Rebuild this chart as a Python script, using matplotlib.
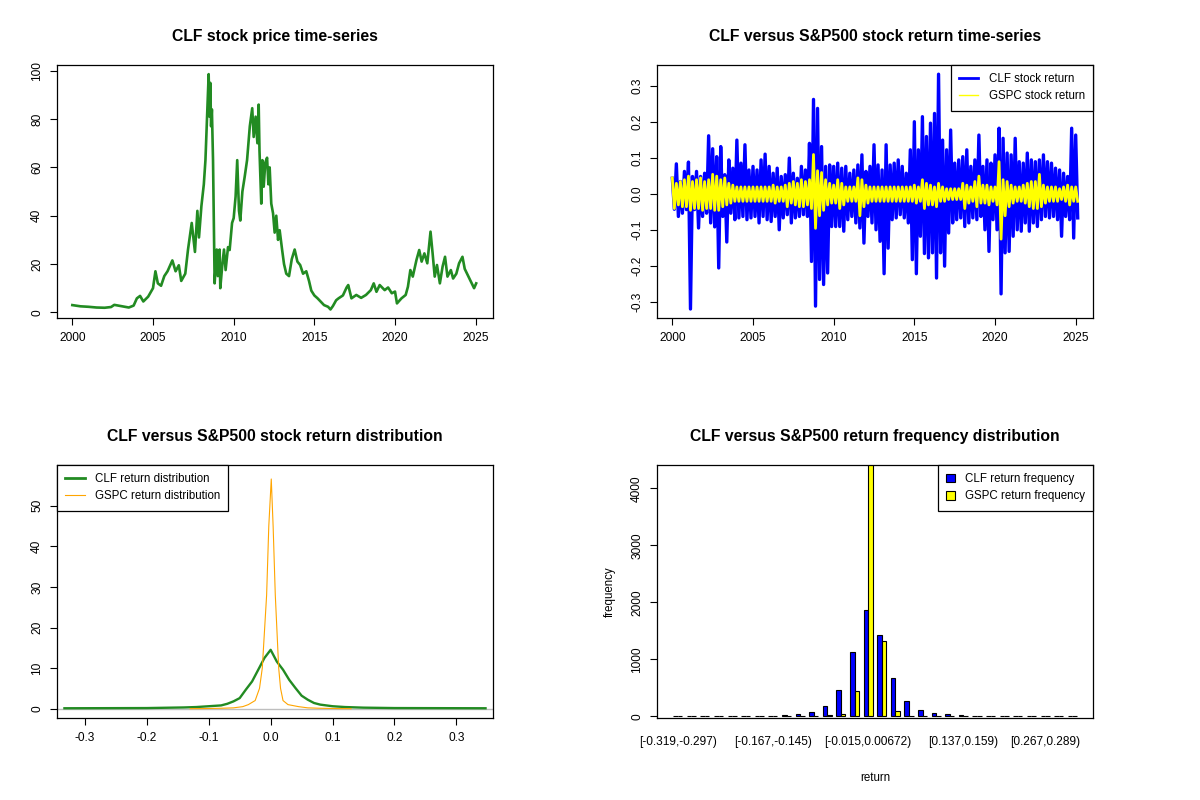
import numpy as np
import matplotlib
matplotlib.use("Agg")
import matplotlib.pyplot as plt
from matplotlib.patches import Patch
from matplotlib.lines import Line2D

plt.rcParams['font.family'] = ['Liberation Sans', 'DejaVu Sans']

# CLF price (year, price)
price_years = [2000.0, 2000.5, 2001.0, 2001.5, 2002.0, 2002.4, 2002.6, 2003.0, 2003.5, 2003.8,
               2004.0, 2004.2, 2004.4, 2004.7, 2005.0, 2005.15, 2005.3, 2005.5, 2005.7, 2005.9,
               2006.1, 2006.2, 2006.4, 2006.6, 2006.75, 2007.0, 2007.17, 2007.4, 2007.6, 2007.75,
               2007.85, 2008.0, 2008.15, 2008.25, 2008.35, 2008.45, 2008.5, 2008.55, 2008.6, 2008.65,
               2008.72, 2008.78, 2008.82, 2008.95, 2009.02, 2009.13, 2009.17, 2009.3, 2009.4, 2009.5,
               2009.65, 2009.75, 2009.9, 2010.0, 2010.12, 2010.22, 2010.33, 2010.41, 2010.54, 2010.68,
               2010.83, 2011.0, 2011.15, 2011.24, 2011.36, 2011.47, 2011.55, 2011.6, 2011.71, 2011.78,
               2011.86, 2011.96, 2012.07, 2012.15, 2012.23, 2012.33, 2012.44, 2012.54, 2012.64, 2012.75,
               2012.85, 2013.0, 2013.12, 2013.26, 2013.43, 2013.6, 2013.78, 2013.95, 2014.12, 2014.3,
               2014.5, 2014.67, 2014.81, 2015.0, 2015.2, 2015.4, 2015.6, 2015.85, 2016.0, 2016.15,
               2016.35, 2016.5, 2016.77, 2017.0, 2017.1, 2017.3, 2017.6, 2017.9, 2018.2, 2018.5,
               2018.68, 2018.85, 2019.05, 2019.36, 2019.57, 2019.8, 2020.0, 2020.12, 2020.4, 2020.66,
               2020.8, 2020.95, 2021.1, 2021.33, 2021.5, 2021.65, 2021.82, 2022.0, 2022.2, 2022.33,
               2022.46, 2022.6, 2022.78, 2022.95, 2023.1, 2023.25, 2023.46, 2023.6, 2023.8, 2023.97,
               2024.18, 2024.32, 2024.55, 2024.75, 2024.9, 2025.03]
price_values = [3.0, 2.5, 2.3, 2.0, 1.9, 2.2, 3.1, 2.6, 2.0, 2.8,
                5.8, 6.8, 4.5, 6.5, 10.0, 17.0, 12.0, 11.0, 15.0, 17.0,
                20.0, 21.5, 17.0, 19.5, 13.0, 16.0, 26.0, 37.0, 25.0, 42.0,
                31.0, 44.0, 53.0, 63.0, 81.0, 98.6, 81.0, 95.0, 77.0, 84.0,
                63.0, 31.0, 12.0, 26.0, 15.0, 26.0, 10.0, 20.0, 26.0, 17.5,
                27.0, 25.8, 37.0, 39.0, 48.0, 63.0, 42.0, 38.0, 50.0, 56.0,
                63.0, 77.0, 84.5, 72.6, 81.0, 70.0, 86.0, 67.0, 45.0, 63.0,
                52.0, 62.0, 64.0, 53.0, 60.0, 45.0, 41.0, 33.0, 40.0, 30.0,
                34.0, 26.0, 20.0, 16.0, 15.0, 22.0, 26.0, 21.0, 19.6, 16.0,
                17.0, 13.0, 9.0, 7.0, 5.8, 4.4, 3.0, 2.3, 1.2, 2.6,
                5.0, 5.8, 7.0, 10.3, 11.3, 5.8, 7.2, 6.0, 7.2, 9.2,
                12.0, 8.5, 11.3, 9.2, 10.3, 7.9, 8.6, 3.7, 5.8, 7.2,
                10.6, 17.5, 14.8, 21.7, 25.8, 21.0, 24.4, 20.3, 33.4, 24.4,
                14.8, 19.6, 12.0, 19.0, 23.0, 14.8, 17.5, 14.0, 16.0, 20.3,
                23.0, 18.0, 14.8, 12.0, 10.0, 12.0]

# daily returns: highest and lowest reading in each quarter, 2000.00 .. 2025.00
clf_ret_high = [0.044, 0.084, 0.035, 0.063, 0.089, 0.049, 0.063, 0.049, 0.058, 0.162,
                0.126, 0.104, 0.132, 0.054, 0.095, 0.072, 0.150, 0.086, 0.137, 0.067,
                0.077, 0.067, 0.095, 0.111, 0.077, 0.058, 0.072, 0.049, 0.054, 0.100,
                0.058, 0.044, 0.077, 0.067, 0.141, 0.263, 0.238, 0.132, 0.077, 0.081,
                0.077, 0.086, 0.072, 0.077, 0.058, 0.067, 0.081, 0.109, 0.063, 0.077,
                0.137, 0.081, 0.067, 0.137, 0.081, 0.086, 0.095, 0.077, 0.058, 0.123,
                0.201, 0.123, 0.215, 0.160, 0.197, 0.224, 0.333, 0.150, 0.123, 0.178,
                0.086, 0.095, 0.104, 0.123, 0.077, 0.095, 0.164, 0.077, 0.095, 0.086,
                0.109, 0.183, 0.155, 0.114, 0.109, 0.155, 0.090, 0.086, 0.114, 0.095,
                0.090, 0.095, 0.109, 0.090, 0.086, 0.072, 0.067, 0.058, 0.049, 0.183,
                0.164]
clf_ret_low = [-0.042, -0.062, -0.053, -0.043, -0.319, -0.043, -0.094, -0.062, -0.053, -0.080,
               -0.091, -0.205, -0.062, -0.133, -0.053, -0.071, -0.066, -0.062, -0.071, -0.066,
               -0.062, -0.080, -0.062, -0.071, -0.076, -0.062, -0.099, -0.066, -0.057, -0.080,
               -0.066, -0.062, -0.057, -0.062, -0.187, -0.311, -0.237, -0.251, -0.219, -0.090,
               -0.090, -0.090, -0.103, -0.071, -0.062, -0.080, -0.094, -0.136, -0.062, -0.080,
               -0.099, -0.131, -0.221, -0.150, -0.071, -0.066, -0.057, -0.066, -0.080, -0.182,
               -0.221, -0.117, -0.165, -0.177, -0.163, -0.233, -0.163, -0.200, -0.108, -0.080,
               -0.071, -0.066, -0.090, -0.080, -0.066, -0.071, -0.062, -0.099, -0.159, -0.071,
               -0.099, -0.277, -0.163, -0.159, -0.117, -0.099, -0.103, -0.080, -0.103, -0.080,
               -0.090, -0.071, -0.062, -0.066, -0.062, -0.071, -0.117, -0.062, -0.071, -0.122,
               -0.066]
gspc_ret_high = [0.045, 0.03, 0.035, 0.04, 0.05, 0.035, 0.04, 0.045, 0.035, 0.04,
                 0.055, 0.05, 0.04, 0.045, 0.03, 0.025, 0.02, 0.02, 0.02, 0.02,
                 0.02, 0.02, 0.02, 0.02, 0.02, 0.025, 0.02, 0.02, 0.025, 0.03,
                 0.035, 0.03, 0.04, 0.035, 0.04, 0.11, 0.065, 0.06, 0.04, 0.03,
                 0.025, 0.04, 0.03, 0.02, 0.02, 0.02, 0.045, 0.04, 0.025, 0.02,
                 0.02, 0.02, 0.02, 0.02, 0.02, 0.02, 0.02, 0.02, 0.02, 0.02,
                 0.025, 0.02, 0.04, 0.03, 0.025, 0.02, 0.03, 0.02, 0.015, 0.015,
                 0.015, 0.015, 0.03, 0.025, 0.02, 0.035, 0.05, 0.025, 0.025, 0.02,
                 0.02, 0.09, 0.04, 0.035, 0.025, 0.02, 0.02, 0.025, 0.03, 0.035,
                 0.035, 0.055, 0.025, 0.02, 0.02, 0.02, 0.015, 0.02, 0.025, 0.02,
                 0.02]
gspc_ret_low = [-0.04, -0.03, -0.035, -0.035, -0.045, -0.04, -0.04, -0.045, -0.04, -0.04,
                -0.045, -0.045, -0.035, -0.03, -0.025, -0.02, -0.02, -0.02, -0.02, -0.02,
                -0.02, -0.02, -0.02, -0.02, -0.02, -0.025, -0.02, -0.02, -0.035, -0.025,
                -0.03, -0.035, -0.035, -0.03, -0.04, -0.095, -0.06, -0.045, -0.03, -0.025,
                -0.025, -0.04, -0.03, -0.02, -0.02, -0.02, -0.06, -0.035, -0.025, -0.02,
                -0.02, -0.02, -0.02, -0.02, -0.02, -0.02, -0.02, -0.02, -0.02, -0.02,
                -0.025, -0.02, -0.04, -0.03, -0.03, -0.035, -0.02, -0.02, -0.015, -0.015,
                -0.015, -0.015, -0.04, -0.025, -0.02, -0.035, -0.025, -0.025, -0.03, -0.02,
                -0.03, -0.125, -0.06, -0.035, -0.025, -0.02, -0.02, -0.025, -0.035, -0.04,
                -0.04, -0.035, -0.025, -0.02, -0.02, -0.02, -0.015, -0.02, -0.03, -0.02,
                -0.02]

# kernel density readings (x, density)
clf_dens_x = [-0.333, -0.2, -0.14, -0.12, -0.10, -0.08, -0.07, -0.06, -0.05, -0.04, -0.03,
              -0.02, -0.01, 0.0, 0.01, 0.02, 0.03, 0.04, 0.05, 0.06, 0.07, 0.08, 0.10,
              0.12, 0.15, 0.2, 0.347]
clf_dens_y = [0.1, 0.15, 0.3, 0.4, 0.6, 0.8, 1.2, 1.8, 2.6, 4.7, 6.7,
              9.6, 12.5, 14.5, 11.6, 9.6, 7.1, 5.1, 3.2, 2.2, 1.4, 1.0, 0.6,
              0.4, 0.25, 0.15, 0.1]
gspc_dens_x = [-0.13, -0.11, -0.08, -0.06, -0.045, -0.036, -0.025, -0.018, -0.0135, -0.0065,
               -0.003, 0.001, 0.004, 0.0075, 0.013, 0.016, 0.02, 0.028, 0.045, 0.06,
               0.08, 0.11, 0.13]
gspc_dens_y = [0.0, 0.02, 0.1, 0.2, 0.5, 1.0, 2.0, 5.0, 10.0, 28.0,
               45.0, 56.6, 45.0, 28.0, 10.0, 5.0, 2.0, 1.0, 0.5, 0.2,
               0.1, 0.02, 0.0]

# return frequency table
bin_labels = ["[-0.319,-0.297)", "[-0.297,-0.275)", "[-0.275,-0.254)", "[-0.254,-0.232)",
              "[-0.232,-0.21)", "[-0.21,-0.189)", "[-0.189,-0.167)", "[-0.167,-0.145)",
              "[-0.145,-0.124)", "[-0.124,-0.102)", "[-0.102,-0.0802)", "[-0.0802,-0.0585)",
              "[-0.0585,-0.0368)", "[-0.0368,-0.015)", "[-0.015,0.00672)", "[0.00672,0.0284)",
              "[0.0284,0.0502)", "[0.0502,0.0719)", "[0.0719,0.0936)", "[0.0936,0.115)",
              "[0.115,0.137)", "[0.137,0.159)", "[0.159,0.18)", "[0.18,0.202)",
              "[0.202,0.224)", "[0.224,0.246)", "[0.246,0.267)", "[0.267,0.289)",
              "[0.289,0.311)", "[0.311,0.332]"]
clf_freq = [1, 1, 2, 2, 4, 8, 10, 12, 18, 35, 70, 176, 457, 1124, 1862,
            1423, 667, 263, 105, 58, 35, 18, 12, 8, 5, 3, 2, 2, 1, 1]
gspc_freq = [0, 0, 0, 0, 0, 0, 0, 0, 1, 2, 5, 15, 35, 439, 4500,
             1317, 88, 10, 3, 1, 0, 0, 0, 0, 0, 0, 0, 0, 0, 0]
shown_labels = [0, 7, 14, 21, 27]

fig = plt.figure(figsize=(12, 8), dpi=100)
ax1 = fig.add_axes([0.0475, 0.6025, 0.3633, 0.316])
ax2 = fig.add_axes([0.5475, 0.6025, 0.3633, 0.316])
ax3 = fig.add_axes([0.0475, 0.1025, 0.3633, 0.316])
ax4 = fig.add_axes([0.5475, 0.1025, 0.3633, 0.316])

tick_fs = 8.6
leg_fs = 8.3
title_fs = 11.3
title_pad = 17.5

def r_style(ax):
    for s in ax.spines.values():
        s.set_linewidth(0.9)
    ax.tick_params(direction='out', length=5, width=0.8, labelsize=tick_fs, pad=5)
    plt.setp(ax.get_yticklabels(), rotation=90, va='center')

def r_legend(ax, handles, labels, loc, **kw):
    leg = ax.legend(handles=handles, labels=labels, loc=loc, borderaxespad=0,
                    fancybox=False, edgecolor='black', framealpha=1, fontsize=leg_fs,
                    labelspacing=0.45, borderpad=0.7, **kw)
    leg.get_frame().set_linewidth(0.9)

# 1. price
ax1.plot(price_years, price_values, color='forestgreen', lw=1.9)
ax1.set_xlim(1999.05, 2026.07)
ax1.set_ylim(-2.34, 102.3)
ax1.set_xticks([2000, 2005, 2010, 2015, 2020, 2025])
ax1.set_yticks([0, 20, 40, 60, 80, 100])
ax1.set_title("CLF stock price time-series", fontsize=title_fs, fontweight='bold', pad=title_pad)
r_style(ax1)

# 2. returns, high then low reading of each quarter
ret_years = 2000 + 0.25 * np.arange(len(clf_ret_high))
zz_x = np.column_stack([ret_years, ret_years + 0.125]).ravel()
clf_zz = np.column_stack([clf_ret_high, clf_ret_low]).ravel()
gspc_zz = np.column_stack([gspc_ret_high, gspc_ret_low]).ravel()
ax2.plot(zz_x, clf_zz, color='blue', lw=2.4)
ax2.plot(zz_x, gspc_zz, color='yellow', lw=2.0)
ax2.set_xlim(1999.05, 2026.07)
ax2.set_ylim(-0.344, 0.358)
ax2.set_xticks([2000, 2005, 2010, 2015, 2020, 2025])
ax2.set_yticks([-0.3, -0.2, -0.1, 0.0, 0.1, 0.2, 0.3])
ax2.set_yticklabels(["-0.3", "-0.2", "-0.1", "0.0", "0.1", "0.2", "0.3"])
ax2.set_title("CLF versus S&P500 stock return time-series", fontsize=title_fs,
              fontweight='bold', pad=title_pad)
r_style(ax2)
r_legend(ax2, [Line2D([], [], color='blue', lw=2), Line2D([], [], color='yellow', lw=1)],
         ["CLF stock return", "GSPC stock return"], 'upper right',
         handlelength=1.7, handletextpad=0.9)

# 3. density
ax3.axhline(0, color='#BEBEBE', lw=1.0)
ax3.plot(clf_dens_x, clf_dens_y, color='forestgreen', lw=1.7)
ax3.plot(gspc_dens_x, gspc_dens_y, color='orange', lw=0.8)
ax3.set_xlim(-0.345, 0.359)
ax3.set_ylim(-2.3, 60.0)
ax3.set_xticks([-0.3, -0.2, -0.1, 0.0, 0.1, 0.2, 0.3])
ax3.set_xticklabels(["-0.3", "-0.2", "-0.1", "0.0", "0.1", "0.2", "0.3"])
ax3.set_yticks([0, 10, 20, 30, 40, 50])
ax3.set_title("CLF versus S&P500 stock return distribution", fontsize=title_fs,
              fontweight='bold', pad=title_pad)
r_style(ax3)
r_legend(ax3, [Line2D([], [], color='forestgreen', lw=2), Line2D([], [], color='orange', lw=0.8)],
         ["CLF return distribution", "GSPC return distribution"], 'upper left',
         handlelength=1.7, handletextpad=0.9)

# 4. grouped frequency bars, R barplot layout (bar width 1, gap 1 between groups)
grp = 3 * np.arange(len(clf_freq))
ax4.bar(grp + 1, clf_freq, width=1, align='edge', color='blue', edgecolor='black', lw=0.8)
ax4.bar(grp + 2, gspc_freq, width=1, align='edge', color='yellow', edgecolor='black', lw=0.8)
ax4.set_xlim(-2.56, 93.56)
ax4.set_ylim(-29, 4409)
ax4.set_yticks([0, 1000, 2000, 3000, 4000])
ax4.set_xticks(grp[shown_labels] + 2)
ax4.set_xticklabels([bin_labels[i] for i in shown_labels])
ax4.set_title("CLF versus S&P500 return frequency distribution", fontsize=title_fs,
              fontweight='bold', pad=title_pad)
r_style(ax4)
ax4.tick_params(axis='x', length=0, pad=13)
ax4.set_xlabel("return", fontsize=8.3, labelpad=17)
ax4.set_ylabel("frequency", fontsize=8.3, labelpad=11)
r_legend(ax4, [Patch(facecolor='blue', edgecolor='black', lw=0.8),
               Patch(facecolor='yellow', edgecolor='black', lw=0.8)],
         ["CLF return frequency", "GSPC return frequency"], 'upper right',
         handlelength=0.75, handleheight=0.75, handletextpad=0.9)

fig.savefig("out.png", dpi=100)
